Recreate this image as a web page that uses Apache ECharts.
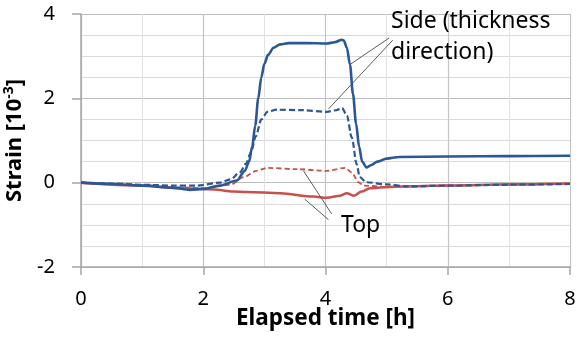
<!DOCTYPE html>
<html>
<head>
<meta charset="utf-8">
<script src="https://cdn.jsdelivr.net/npm/echarts@6/dist/echarts.min.js"></script>
<style>
	html, body { margin: 0; padding: 0; background: #fff; }
	#strainChart { width: 578px; height: 341px; }
</style>
</head>
<body>
<div id="strainChart"></div>
<script>
// elapsed time [h] / strain [10^-3]
const sideSolidT = [0, 0.5, 1, 1.5, 1.78, 2.0, 2.27, 2.55, 2.68, 2.75, 2.8, 2.85, 2.9, 2.95, 3.0, 3.06, 3.15, 3.26, 3.4, 3.7, 4.02, 4.15, 4.27, 4.3, 4.35, 4.4, 4.45, 4.5, 4.55, 4.6, 4.67, 4.75, 4.85, 5.0, 5.2, 6, 7, 8];
const sideSolidV = [0, -0.03, -0.07, -0.12, -0.17, -0.15, -0.07, 0.05, 0.28, 0.5, 0.85, 1.35, 2.0, 2.5, 2.82, 3.03, 3.2, 3.28, 3.31, 3.31, 3.30, 3.33, 3.39, 3.37, 3.2, 2.8, 2.1, 1.4, 0.85, 0.5, 0.36, 0.42, 0.5, 0.57, 0.61, 0.62, 0.63, 0.64];

const sideDashT = [0, 0.5, 1, 1.5, 1.89, 2.27, 2.45, 2.6, 2.7, 2.78, 2.86, 2.95, 3.05, 3.2, 3.62, 4.02, 4.18, 4.27, 4.35, 4.43, 4.51, 4.56, 4.67, 5.0, 5.33, 6, 7, 8];
const sideDashV = [0, -0.02, -0.05, -0.07, -0.07, 0.0, 0.08, 0.25, 0.45, 0.72, 1.1, 1.5, 1.68, 1.73, 1.72, 1.68, 1.72, 1.77, 1.59, 1.07, 0.44, 0.13, 0.01, -0.04, -0.09, -0.07, -0.05, -0.03];

const topDashT = [0, 1, 1.62, 2.0, 2.44, 2.66, 2.87, 3.04, 3.53, 4.02, 4.32, 4.43, 4.54, 4.62, 5.0, 5.5, 6, 7, 8];
const topDashV = [0, -0.06, -0.11, -0.13, -0.05, 0.13, 0.28, 0.35, 0.32, 0.28, 0.35, 0.24, 0.01, -0.07, -0.1, -0.09, -0.07, -0.05, -0.03];

const topSolidT = [0, 1, 1.62, 2.17, 2.49, 2.71, 3.26, 3.8, 4.02, 4.24, 4.35, 4.46, 4.59, 4.73, 5.22, 6, 7, 8];
const topSolidV = [0, -0.07, -0.13, -0.16, -0.21, -0.22, -0.25, -0.33, -0.36, -0.31, -0.25, -0.31, -0.21, -0.13, -0.09, -0.07, -0.04, -0.02];

const xTicks = [0, 2, 4, 6, 8];
const yTicks = [-2, 0, 2, 4];

// leader lines from the labels to the curves (data coords)
const sideLeaders = [[[5.04, 3.43], [4.41, 2.81]], [[5.10, 3.38], [4.05, 1.75]]];
const topLeaders = [[[4.10, -0.74], [3.64, 0.28]], [[4.05, -0.88], [3.66, -0.39]]];

const blue = '#2b5895';
const red = '#c8504d';
const fontFam = '"Noto Sans", "Liberation Sans", sans-serif';

const pairs = (t, v) => t.map((x, i) => [x, v[i]]);
const leaderData = (list) => list.map(l => [{ coord: l[0] }, { coord: l[1] }]);

let chart = echarts.init(document.getElementById('strainChart'));

let option = {
	animation: false,
	textStyle: { fontFamily: fontFam },
	grid: { left: 81, right: 8, top: 14, bottom: 74, containLabel: false, outerBoundsMode: 'none' },
	xAxis: {
		type: 'value',
		min: xTicks[0],
		max: xTicks[xTicks.length - 1],
		interval: 2,
		name: 'Elapsed time [h]',
		nameLocation: 'middle',
		nameGap: 40,
		nameMoveOverlap: false,
		nameTextStyle: { fontSize: 22.5, fontWeight: 'bold', color: '#000', fontFamily: fontFam },
		axisLine: { onZero: false, lineStyle: { color: '#a6a6a6', width: 1.5 } },
		axisTick: { show: true, length: 8, lineStyle: { color: '#a6a6a6', width: 1.5 } },
		axisLabel: { fontSize: 20, color: '#000', margin: 22, fontFamily: fontFam },
		splitLine: { show: true, lineStyle: { color: '#c4c4c4', width: 1.2 } },
		minorTick: { show: false, splitNumber: 2 },
		minorSplitLine: { show: true, lineStyle: { color: '#e2e2e2', width: 1 } }
	},
	yAxis: {
		type: 'value',
		min: yTicks[0],
		max: yTicks[yTicks.length - 1],
		interval: 2,
		name: '{b|Strain [10}{s|-3}{b|]}',
		nameLocation: 'middle',
		nameGap: 54,
		nameRotate: 90,
		nameMoveOverlap: false,
		nameTextStyle: {
			color: '#000',
			rich: {
				b: { fontSize: 22, fontWeight: 'bold', color: '#000', fontFamily: fontFam },
				s: { fontSize: 14, fontWeight: 'bold', color: '#000', fontFamily: fontFam, verticalAlign: 'bottom', padding: [0, 0, 11, 0] }
			}
		},
		axisLine: { show: true, lineStyle: { color: '#a6a6a6', width: 1.5 } },
		axisTick: { show: true, length: 9, lineStyle: { color: '#a6a6a6', width: 1.5 } },
		axisLabel: { fontSize: 20, color: '#000', margin: 26, fontFamily: fontFam },
		splitLine: { show: true, lineStyle: { color: '#bdbdbd', width: 1.2 } },
		minorTick: { show: false, splitNumber: 4 },
		minorSplitLine: { show: true, lineStyle: { color: '#dadada', width: 1 } }
	},
	series: [
		{
			name: 'Top (surface)',
			type: 'line',
			data: pairs(topSolidT, topSolidV),
			showSymbol: false,
			smooth: 0.3,
			smoothMonotone: 'x',
			lineStyle: { color: red, width: 2.5 },
			z: 3,
			markLine: {
				silent: true,
				symbol: ['none', 'none'],
				label: { show: false },
				lineStyle: { color: '#5a5a5a', width: 1, type: 'solid' },
				data: leaderData(topLeaders)
			}
		},
		{
			name: 'Top (dashed)',
			type: 'line',
			data: pairs(topDashT, topDashV),
			showSymbol: false,
			smooth: 0.3,
			smoothMonotone: 'x',
			lineStyle: { color: red, width: 1.8, type: [5, 3] },
			z: 2
		},
		{
			name: 'Side (dashed)',
			type: 'line',
			data: pairs(sideDashT, sideDashV),
			showSymbol: false,
			smooth: 0.3,
			smoothMonotone: 'x',
			lineStyle: { color: blue, width: 2.2, type: [6, 3] },
			z: 4
		},
		{
			name: 'Side (solid)',
			type: 'line',
			data: pairs(sideSolidT, sideSolidV),
			showSymbol: false,
			smooth: 0.3,
			smoothMonotone: 'x',
			lineStyle: { color: blue, width: 2.6 },
			z: 5,
			markLine: {
				silent: true,
				symbol: ['none', 'none'],
				label: { show: false },
				lineStyle: { color: '#5a5a5a', width: 1, type: 'solid' },
				data: leaderData(sideLeaders)
			}
		}
	],
	graphic: [
		{
			type: 'text',
			left: 391,
			top: 6,
			z: 100,
			style: { text: 'Side (thickness\ndirection)', fontSize: 23, lineHeight: 31, fill: '#000', fontFamily: fontFam }
		},
		{
			type: 'text',
			left: 341,
			top: 214,
			z: 100,
			style: { text: 'Top', fontSize: 23, fill: '#000', fontFamily: fontFam }
		}
	]
};

chart.setOption(option);
</script>
</body>
</html>
